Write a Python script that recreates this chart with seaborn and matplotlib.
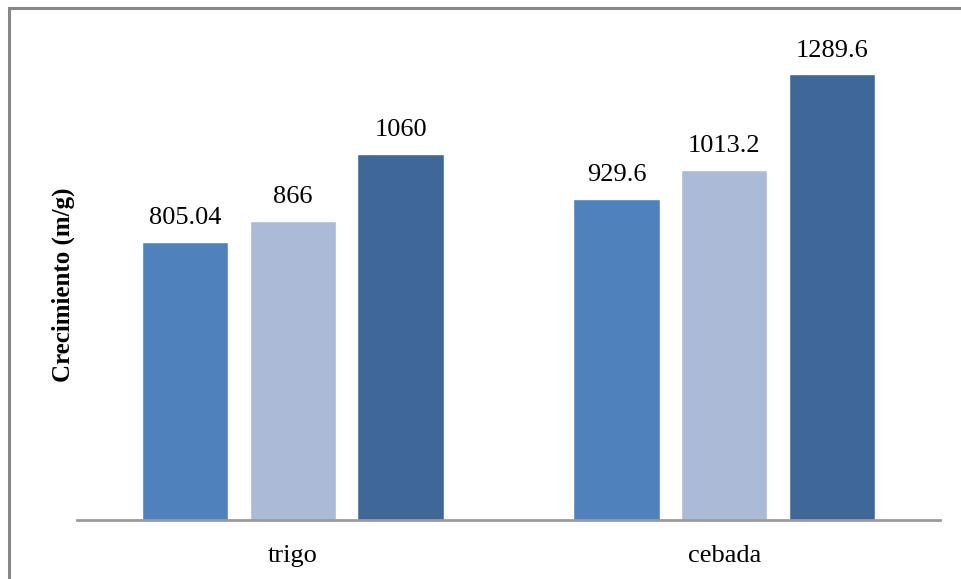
import matplotlib
matplotlib.use("Agg")
import matplotlib.pyplot as plt
import seaborn as sns
import pandas as pd
from matplotlib.patches import Rectangle

categories = ["trigo", "cebada"]
series = ["Serie 1", "Serie 2", "Serie 3"]
values_s1 = [805.04, 929.6]
values_s2 = [866, 1013.2]
values_s3 = [1060, 1289.6]
colors = ["#4F81BD", "#AABAD7", "#3F6898"]

rows = []
for name, vals in zip(series, [values_s1, values_s2, values_s3]):
    for cat, v in zip(categories, vals):
        rows.append({"cultivo": cat, "serie": name, "valor": v})
df = pd.DataFrame(rows)

sns.set_theme(style="white")
plt.rcParams["font.family"] = ["Liberation Serif", "DejaVu Serif"]
plt.rcParams["text.color"] = "black"
plt.rcParams["axes.labelcolor"] = "black"
plt.rcParams["xtick.color"] = "black"

W, H = 961, 579
fig = plt.figure(figsize=(W / 100, H / 100), dpi=100)
ax = fig.add_axes([77 / W, 1 - 520 / H, (940 - 77) / W, (520 - 36) / H])

sns.barplot(data=df, x="cultivo", y="valor", hue="serie", order=categories,
            hue_order=series, palette=colors, width=0.75, gap=0.2,
            saturation=1, errorbar=None, ax=ax, legend=False)

ax.set_xlim(-0.5, 1.5)
ax.set_ylim(0, 1400)
ax.set_yticks([])
ax.set_xlabel("")
ax.set_ylabel("Crecimiento (m/g)", fontsize=18, fontweight="bold")
ax.yaxis.set_label_coords(-0.002, 0.486)
ax.tick_params(axis="x", length=0, labelsize=19, pad=18)
for s in ["top", "right", "left"]:
    ax.spines[s].set_visible(False)
ax.spines["bottom"].set_color("#9A9A9A")
ax.spines["bottom"].set_linewidth(2)

for cont in ax.containers:
    labels = [f"{v:g}" for v in cont.datavalues]
    ax.bar_label(cont, labels=labels, fontsize=19, padding=9, color="black")

# chart frame
fig.patches.append(Rectangle((8.5 / W, -0.1), 1.2, 1 - 7.5 / H + 0.1,
                             transform=fig.transFigure, fill=False,
                             edgecolor="#878787", linewidth=2.2))

fig.savefig("out.png", dpi=100)
